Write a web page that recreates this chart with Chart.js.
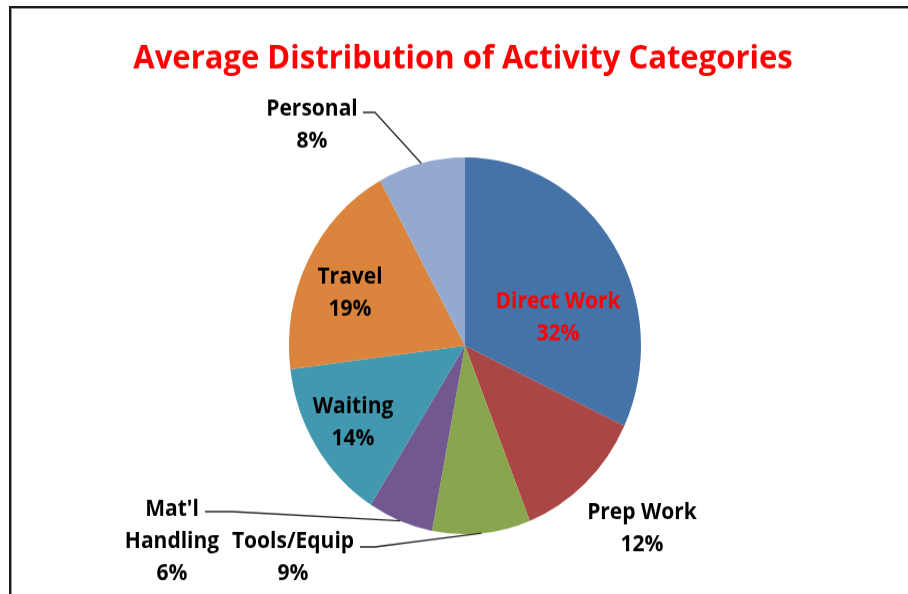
<!DOCTYPE html>
<html>
<head>
<meta charset="utf-8">
<script src="https://cdn.jsdelivr.net/npm/chart.js@4.4.1/dist/chart.umd.min.js"></script>
<style>
  html, body { margin: 0; padding: 0; background: #fff; overflow: hidden; }
  #page { position: relative; width: 908px; height: 594px; }
  #frame { position: absolute; left: 9px; top: 6px; right: -10px; bottom: -10px;
           border-left: 2px solid #1a1a1a; border-top: 2px solid #1a1a1a;
           box-shadow: inset 1px 1px 0 #9a9a9a; }
  #wrap { position: absolute; left: 0; top: 0; width: 908px; height: 555px;
          transform: scaleY(1.07027); transform-origin: 0 0; }
</style>
</head>
<body>
<div id="page">
  <div id="frame"></div>
  <div id="wrap"><canvas id="c" width="908" height="555"></canvas></div>
</div>
<script>
// ---- data ----
const categories = ["Direct Work", "Prep Work", "Tools/Equip", "Mat'l Handling", "Waiting", "Travel", "Personal"];
const values = [32, 12, 9, 6, 14, 19, 8];
const labelLines = [["Direct Work"], ["Prep Work"], ["Tools/Equip"], ["Mat'l", "Handling"], ["Waiting"], ["Travel"], ["Personal"]];
const titleText = "Average Distribution of Activity Categories";

// ---- style ----
const colors = ["#4572A7", "#AA4643", "#89A54E", "#71588F", "#4198AF", "#DB843D", "#93A9CF"];
const labelColors = ["#FF0000", "#000000", "#000000", "#000000", "#000000", "#000000", "#000000"];
// label block centre offsets from pie centre (px)
const labelOffsets = [[93, -26], [177, 171], [-172, 198], [-293, 183], [-112, 72], [-115, -49], [-153, -206]];
// leader lines: [startDx, startDy, elbowDx] or null
const leaders = [null, null, [-105, 188, -90], [-260, 155, -233], null, null, [-102, -218, -90]];

const FONT = "'Open Sans', 'Noto Sans', sans-serif";
const LINE_H = 30;

const labelPlugin = {
  id: 'labels',
  afterDraw(chart) {
    const ctx = chart.ctx;
    const meta = chart.getDatasetMeta(0);
    const arc0 = meta.data[0];
    const cx = arc0.x, cy = arc0.y;
    ctx.save();
    // title
    ctx.font = "bold 31px " + FONT;
    ctx.fillStyle = "#FF0000";
    ctx.textAlign = "center";
    ctx.textBaseline = "alphabetic";
    ctx.fillText(titleText, 463, 64);

    // leader lines
    ctx.strokeStyle = "#262626";
    ctx.lineWidth = 1.3;
    meta.data.forEach((arc, i) => {
      const L = leaders[i];
      if (!L) return;
      const a = (arc.startAngle + arc.endAngle) / 2;
      const ex = arc.x + Math.cos(a) * arc.outerRadius;
      const ey = arc.y + Math.sin(a) * arc.outerRadius;
      ctx.beginPath();
      ctx.moveTo(cx + L[0], cy + L[1]);
      ctx.lineTo(cx + L[2], cy + L[1]);
      ctx.lineTo(ex, ey);
      ctx.stroke();
    });

    // labels
    ctx.font = "bold 21px " + FONT;
    ctx.textBaseline = "middle";
    meta.data.forEach((arc, i) => {
      const lines = labelLines[i].concat([values[i] + "%"]);
      const bx = cx + labelOffsets[i][0];
      const by = cy + labelOffsets[i][1];
      const top = by - (lines.length - 1) * LINE_H / 2;
      ctx.fillStyle = labelColors[i];
      lines.forEach((t, k) => ctx.fillText(t, bx, top + k * LINE_H));
    });
    ctx.restore();
  }
};

new Chart(document.getElementById('c'), {
  type: 'pie',
  data: {
    labels: categories,
    datasets: [{ data: values, backgroundColor: colors, borderWidth: 0 }]
  },
  options: {
    responsive: false,
    animation: false,
    layout: { padding: { left: 289, right: 267, top: 147, bottom: 56 } },
    plugins: { legend: { display: false }, tooltip: { enabled: false }, title: { display: false } }
  },
  plugins: [labelPlugin]
});
</script>
</body>
</html>
